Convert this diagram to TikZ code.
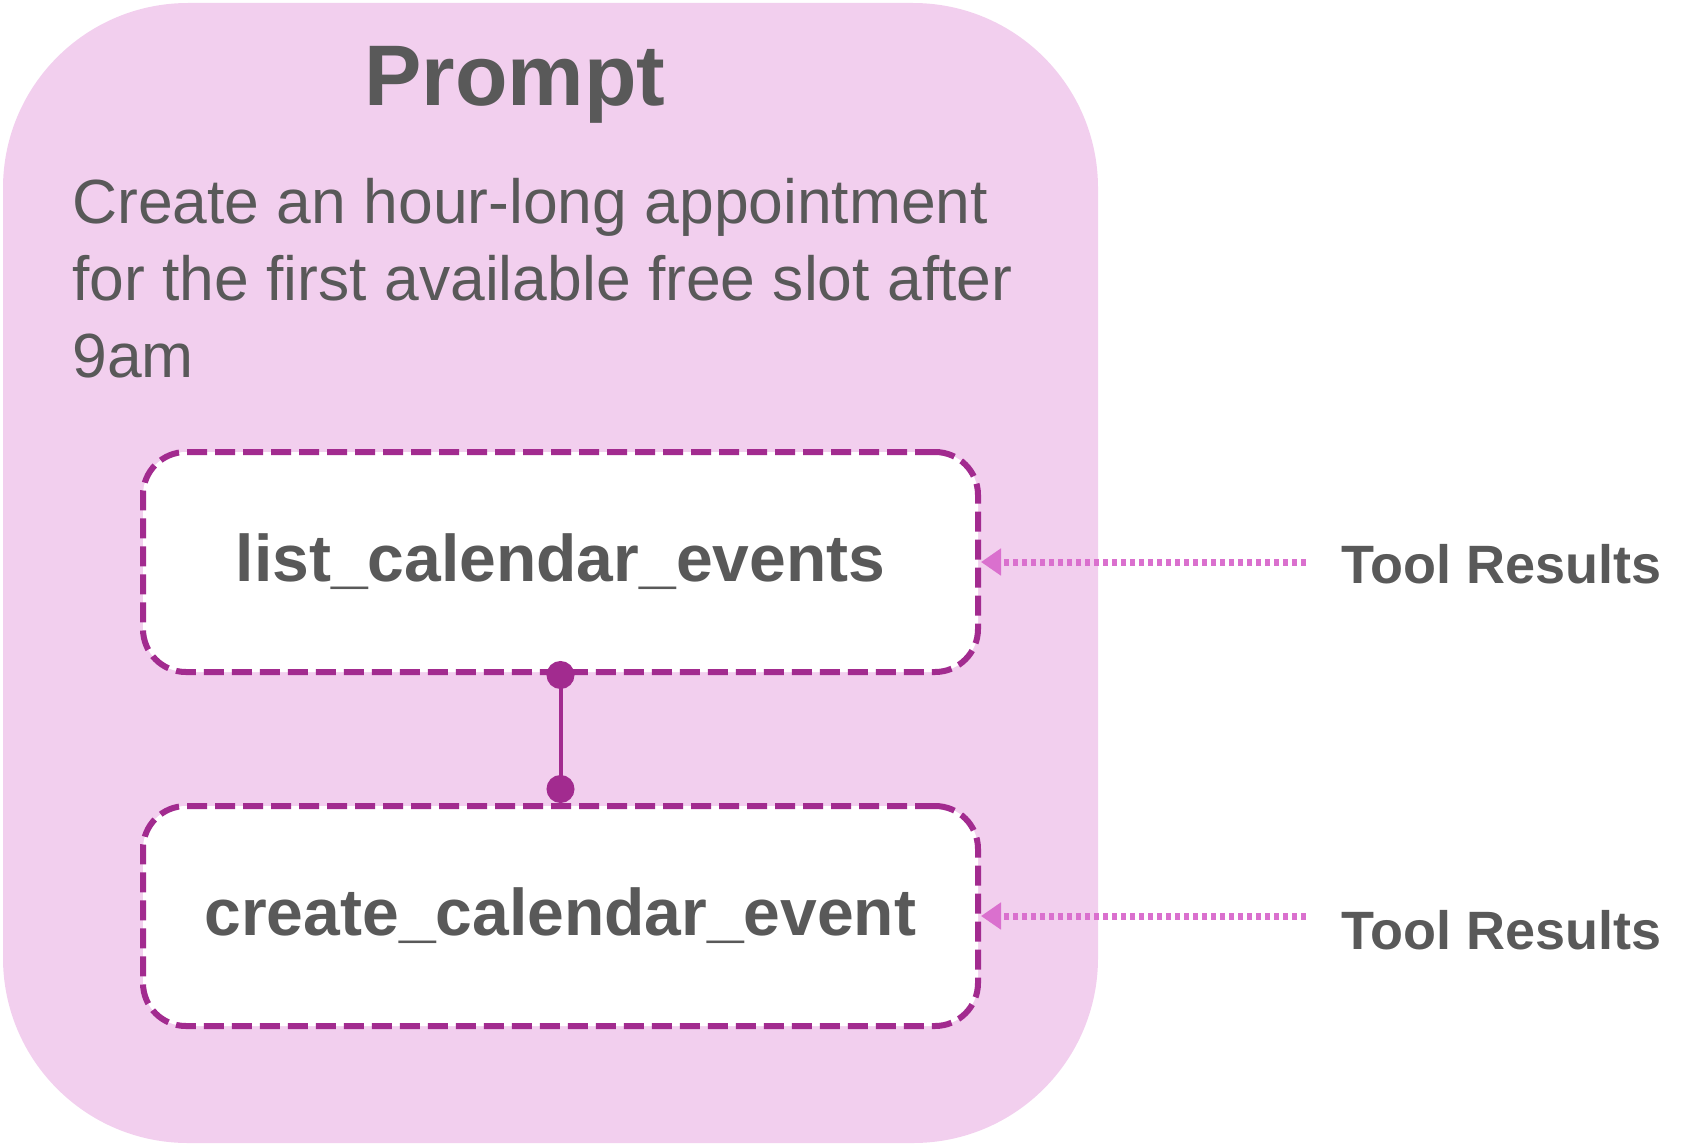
\documentclass[tikz,border=0pt]{standalone}
\usepackage{fontspec}
\setmainfont{Liberation Sans}
\usepackage{xcolor}
\usetikzlibrary{arrows.meta, positioning, calc}
\definecolor{promptpink}{HTML}{F2CFEE}
\definecolor{toolpurple}{HTML}{A22B8F}
\definecolor{resultpink}{HTML}{DA70CE}
\definecolor{textgray}{HTML}{595959}

\begin{document}
\begin{tikzpicture}[
    x=0.5pt, y=-0.5pt,
    text=textgray,
    prompt/.style={fill=promptpink, rounded corners=92.5pt, minimum width=547.5pt, minimum height=570pt, inner sep=0pt},
    toolbox/.style={draw=toolpurple, fill=white, line width=3pt, dash pattern=on 10pt off 4pt, rounded corners=21.5pt, minimum width=417.5pt, minimum height=110pt, font=\fontsize{33}{40}\selectfont\bfseries},
    result/.style={anchor=west, inner xsep=17.5pt, inner ysep=0pt, font=\fontsize{27}{32}\selectfont\bfseries},
    res arrow/.style={draw=resultpink, line width=3.5pt, dash pattern=on 2.5pt off 2pt, -{Triangle[length=10pt, width=13pt, fill=resultpink]}},
    link/.style={draw=toolpurple, line width=2pt, {Circle[length=14pt]}-{Circle[length=14pt]}, shorten <=-7pt}
]
    \useasboundingbox (0,0) rectangle (1700,1145);

    \node [prompt] (box) at (550.5, 573) {};
    \node [anchor=base, font=\fontsize{43}{50}\selectfont\bfseries] (title) at (515, 105) {Prompt};
    \node [anchor=north west, inner sep=0pt, align=left, font=\fontsize{31.2}{38.5}\selectfont] (task) at (72, 178)
        {Create an hour-long appointment\\for the first available free slot after\\9am};

    \node [toolbox] (list) at (560.5, 562) {list\_calendar\_events};
    \node [toolbox] (create) at (560.5, 916) {create\_calendar\_event};

    \node [result] (res1) at (1306, 564) {Tool Results};
    \node [result] (res2) at (1306, 930) {Tool Results};

    \draw [link] (list.south) -- (create.north);

    \draw [res arrow] (res1.west |- list.east) -- (list.east);
    \draw [res arrow] (res2.west |- create.east) -- (create.east);

\end{tikzpicture}
\end{document}
